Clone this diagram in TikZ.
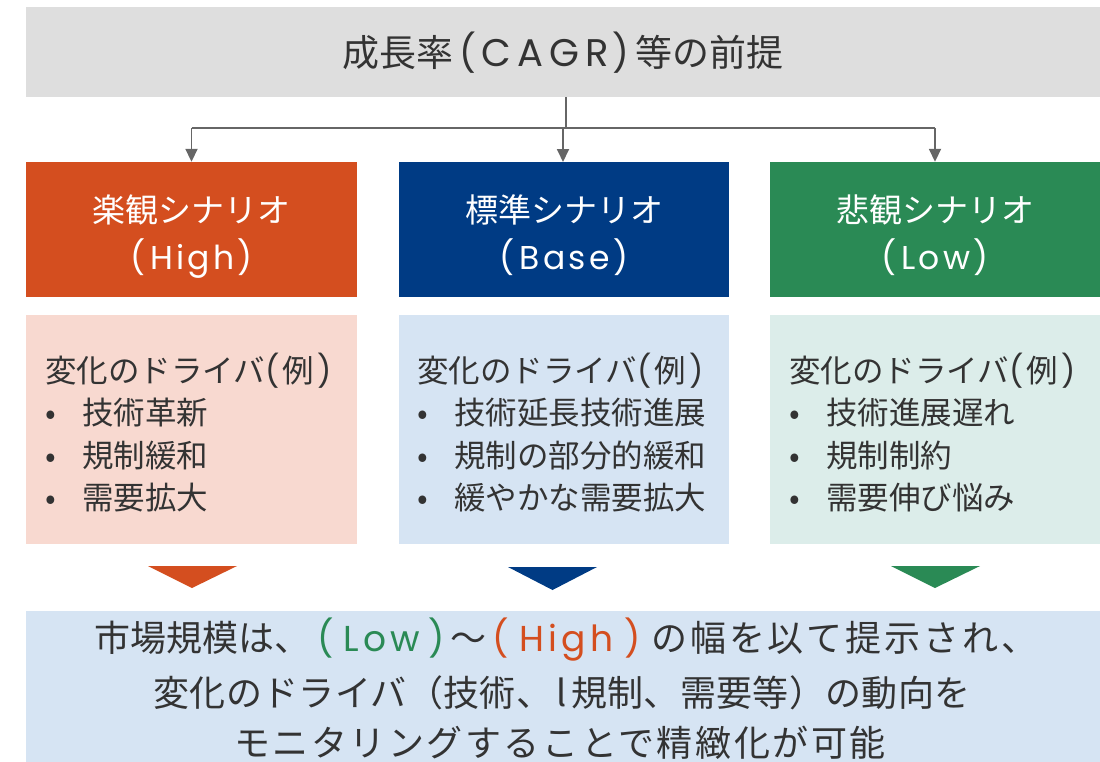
\documentclass[tikz,border=0pt]{standalone}
\usepackage{fontspec}
\setmainfont{Noto Sans CJK JP}
\newfontfamily\latf{Poppins}
\newcommand{\lt}[2][12]{{\latf\addfontfeature{LetterSpace=#1}#2}}
\usetikzlibrary{arrows.meta}
\definecolor{txt}{HTML}{333333}
\definecolor{greybg}{HTML}{DEDEDE}
\definecolor{cOrange}{HTML}{D44E1F}
\definecolor{cBlue}{HTML}{003B84}
\definecolor{cGreen}{HTML}{2A8A55}
\definecolor{lOrange}{HTML}{F8D9D0}
\definecolor{lBlue}{HTML}{D6E4F3}
\definecolor{lGreen}{HTML}{DCEDEA}
\definecolor{lineg}{HTML}{666666}
\tikzset{
  box/.style={rectangle, inner sep=0pt, draw=none},
  titletext/.style={font=\fontsize{37}{37}\selectfont, text=txt, inner sep=0pt, anchor=base},
  headtext/.style={font=\fontsize{33}{33}\selectfont, text=white, inner sep=0pt, anchor=base},
  bodytext/.style={font=\fontsize{31.5}{31.5}\selectfont, text=txt, inner sep=0pt, anchor=base west},
  bottext/.style={font=\fontsize{36}{36}\selectfont, text=txt, inner sep=0pt, anchor=base},
  conn/.style={draw=lineg, line width=1.8pt},
  arr/.style={conn, -{Triangle[length=13pt,width=12pt]}}
}
\newcommand{\bl}{\makebox[37pt][l]{•}}
\newcommand{\po}{\lt{(}\hspace{0.15em}}
\newcommand{\pc}{\hspace{0.1em}\lt{)}}
\begin{document}
\begin{tikzpicture}[x=1pt,y=-1pt]
\useasboundingbox (0,0) rectangle (1100,761);
% top box
\node[box, fill=greybg, minimum width=1074pt, minimum height=90pt] (top) at (563,52) {};
\node[titletext] (toptxt) at (563,66) {成長率\hspace{0.15em}\po{\fontsize{38.5}{38.5}\selectfont\lt[16]{CAGR}}\pc\hspace{0.15em}等の前提};
% scenario boxes
\node[box, fill=cOrange, minimum width=331pt, minimum height=135pt] (s1) at (191.5,229.5) {};
\node[box, fill=cBlue, minimum width=330pt, minimum height=135pt] (s2) at (564,229.5) {};
\node[box, fill=cGreen, minimum width=330pt, minimum height=135pt] (s3) at (935,229.5) {};
\node[headtext] (h1a) at (191.5,222.5) {楽観シナリオ};
\node[headtext] (h1b) at (191.5,269.5) {\po\lt[10]{High}\pc};
\node[headtext] (h2a) at (564,222.5) {標準シナリオ};
\node[headtext] (h2b) at (564,269.5) {\po\lt[10]{Base}\pc};
\node[headtext] (h3a) at (935,222.5) {悲観シナリオ};
\node[headtext] (h3b) at (935,269.5) {\po\lt[10]{Low}\pc};
% driver boxes
\node[box, fill=lOrange, minimum width=331pt, minimum height=229pt] (d1) at (191.5,429.5) {};
\node[box, fill=lBlue, minimum width=330pt, minimum height=229pt] (d2) at (564,429.5) {};
\node[box, fill=lGreen, minimum width=330pt, minimum height=229pt] (d3) at (935,429.5) {};
\node[bodytext] (d1a) at (45,382) {変化のドライバ\lt{(}\hspace{0.1em}例\hspace{0.1em}\lt{)}};
\node[bodytext] (d1b) at (45,424.5) {\bl 技術革新};
\node[bodytext] (d1c) at (45,467) {\bl 規制緩和};
\node[bodytext] (d1d) at (45,509.5) {\bl 需要拡大};
\node[bodytext] (d2a) at (417,382) {変化のドライバ\lt{(}\hspace{0.1em}例\hspace{0.1em}\lt{)}};
\node[bodytext] (d2b) at (417,424.5) {\bl 技術延長技術進展};
\node[bodytext] (d2c) at (417,467) {\bl 規制の部分的緩和};
\node[bodytext] (d2d) at (417,509.5) {\bl 緩やかな需要拡大};
\node[bodytext] (d3a) at (789,382) {変化のドライバ\lt{(}\hspace{0.1em}例\hspace{0.1em}\lt{)}};
\node[bodytext] (d3b) at (789,424.5) {\bl 技術進展遅れ};
\node[bodytext] (d3c) at (789,467) {\bl 規制制約};
\node[bodytext] (d3d) at (789,509.5) {\bl 需要伸び悩み};
% triangles
\fill[cOrange] (148,566) -- (237,566) -- (192,588) -- cycle;
\fill[cBlue] (508,567) -- (597,567) -- (552.5,590) -- cycle;
\fill[cGreen] (891,566) -- (980,566) -- (935,588) -- cycle;
% bottom box
\node[box, fill=lBlue, minimum width=1074pt, minimum height=160pt] (bot) at (563,691) {};
\node[bottext, anchor=base west] (b1) at (94.5,651.5) {市場規模は、\hspace{0.2em}\textcolor{cGreen}{\lt{(}\hspace{0.25em}\lt[12]{Low}\hspace{0.25em}\lt{)}}\hspace{0.15em}～\hspace{0.15em}\textcolor{cOrange}{\lt{(}\hspace{0.3em}\lt[12]{High}\hspace{0.3em}\lt{)}}\hspace{0.3em}{\addfontfeature{LetterSpace=8}の幅を以て提示され、}};
\node[bottext] (b2) at (562,706.5) {\addfontfeature{LetterSpace=1}変化のドライバ（技術、\hspace{0.12em}l\hspace{0.12em}規制、需要等）の動向を};
\node[bottext] (b3) at (560,756.5) {\addfontfeature{LetterSpace=7}モニタリングすることで精緻化が可能};
% connectors
\coordinate (j) at (566,128);
\draw[conn] (top.south -| j) -- (j);
\draw[conn] (j -| s1.north) -- (j -| s3.north);
\draw[arr] (j -| s1.north) -- (s1.north);
\draw[arr] (563,128) -- (563,162);
\draw[arr] (j -| s3.north) -- (s3.north);
\end{tikzpicture}
\end{document}
